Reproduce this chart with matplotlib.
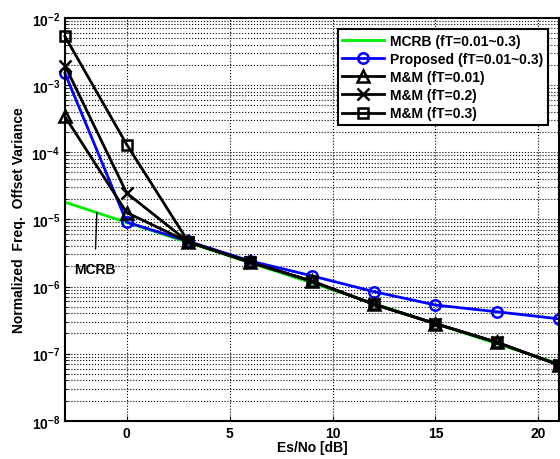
import numpy as np
import matplotlib
matplotlib.use('Agg')
import matplotlib.pyplot as plt

plt.rcParams['font.family'] = ['Liberation Sans', 'DejaVu Sans']
plt.rcParams['font.weight'] = 'bold'
plt.rcParams['mathtext.fontset'] = 'custom'
plt.rcParams['mathtext.rm'] = 'Liberation Sans:bold'
plt.rcParams['mathtext.it'] = 'Liberation Sans:bold'
plt.rcParams['mathtext.bf'] = 'Liberation Sans:bold'

snr = [-3, 0, 3, 6, 9, 12, 15, 18, 21]
mcrb = [1.8e-5, 9.0e-6, 4.5e-6, 2.25e-6, 1.13e-6, 5.6e-7, 2.8e-7, 1.4e-7, 7.1e-8]
proposed = [1.5e-3, 9.1e-6, 4.7e-6, 2.4e-6, 1.44e-6, 8.4e-7, 5.3e-7, 4.2e-7, 3.3e-7]
mm_001 = [3.4e-4, 1.26e-5, 4.6e-6, 2.3e-6, 1.2e-6, 5.45e-7, 2.8e-7, 1.47e-7, 6.8e-8]
mm_02 = [1.95e-3, 2.46e-5, 4.6e-6, 2.3e-6, 1.2e-6, 5.45e-7, 2.8e-7, 1.47e-7, 6.8e-8]
mm_03 = [5.3e-3, 1.3e-4, 4.6e-6, 2.3e-6, 1.2e-6, 5.45e-7, 2.8e-7, 1.47e-7, 6.8e-8]

fig = plt.figure(figsize=(5.6, 4.6), dpi=100)
ax = fig.add_axes([0.116, 0.083, 0.882, 0.876])

ax.semilogy(snr, mcrb, color='#00ee00', lw=2, label='MCRB (fT=0.01~0.3)')
ax.semilogy(snr, proposed, color='#0000ff', lw=2, marker='o', ms=7.5, mfc='none', mew=1.8,
            label='Proposed (fT=0.01~0.3)', clip_on=False)
ax.semilogy(snr, mm_001, color='black', lw=2, marker='^', ms=8, mfc='none', mew=1.8,
            label='M&M (fT=0.01)', clip_on=False)
ax.semilogy(snr, mm_02, color='black', lw=2, marker='x', ms=8, mew=1.8, label='M&M (fT=0.2)',
            clip_on=False)
ax.semilogy(snr, mm_03, color='black', lw=2, marker='s', ms=7, mfc='none', mew=1.8,
            label='M&M (fT=0.3)', clip_on=False)

ax.set_xlim(-3, 21)
ax.set_ylim(1e-8, 1e-2)
ax.set_xticks([0, 5, 10, 15, 20])
ax.grid(True, which='major', axis='x', color='black', linestyle=':', lw=0.8)
ax.grid(True, which='both', axis='y', color='black', linestyle=':', lw=0.8)
ax.tick_params(which='both', direction='in', labelsize=10)
for s in ax.spines.values():
    s.set_linewidth(1.5)

ax.annotate('MCRB', xy=(-1.45, mcrb[0] * 10 ** (-0.155)), xytext=(-1.55, 1.85e-6),
            ha='center', va='center', fontsize=10, fontweight='bold',
            arrowprops=dict(arrowstyle='-', color='black', lw=1, shrinkA=7, shrinkB=0))

ax.set_xlabel('Es/No [dB]', fontsize=10, fontweight='bold', labelpad=0)
ax.set_ylabel('Normalized  Freq.  Offset Variance', fontsize=10, fontweight='bold', labelpad=4)

leg = ax.legend(loc='upper right', fontsize=10, fancybox=False, framealpha=1,
                edgecolor='black', borderaxespad=0.8, handlelength=3.0,
                labelspacing=0.3, borderpad=0.35, handletextpad=0.4)
leg.get_frame().set_linewidth(1.5)

plt.savefig('out.png', dpi=100)
